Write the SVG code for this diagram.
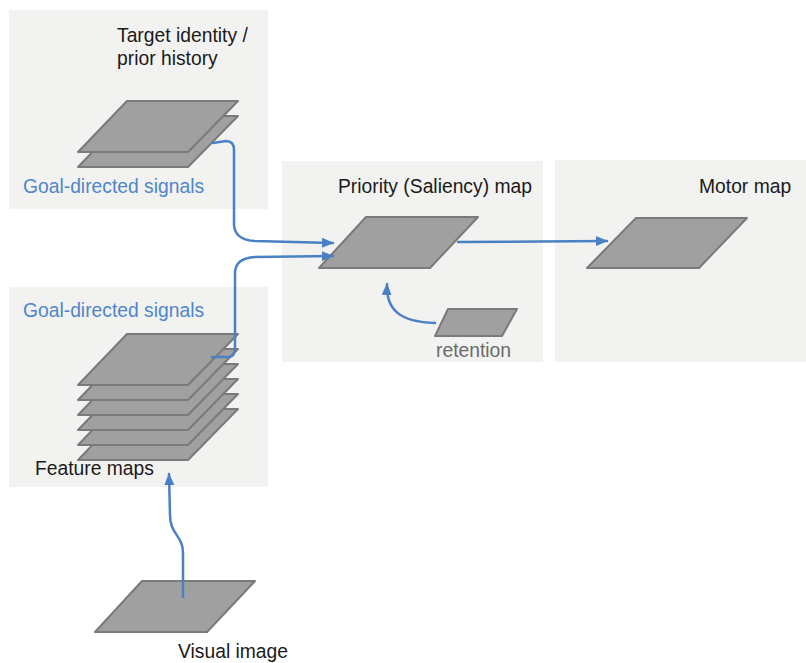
<svg xmlns="http://www.w3.org/2000/svg" width="806" height="663" viewBox="0 0 806 663">
<style>
.panel{fill:#f2f2f1;stroke:none}
.map{fill:#a0a0a0;stroke:#7a7a7a;stroke-width:2;stroke-linejoin:round}
.lbl{font-family:"Liberation Sans",Arial,sans-serif;font-size:19.3px;fill:#1a1a1a}
.blue{fill:#4f86c9}
.gray{fill:#6a6a6a}
.conn{fill:none;stroke:#4a80c4;stroke-width:2.5;stroke-linecap:round}
</style>
<defs>
<marker id="ah" viewBox="0 0 12 10" refX="11" refY="5" markerWidth="12" markerHeight="10" markerUnits="userSpaceOnUse" orient="auto">
<path d="M0,0 L12,5 L0,10 Z" fill="#4a80c4"/>
</marker>
</defs>
<rect width="806" height="663" fill="#ffffff"/>
<g id="panel-target">
<rect class="panel" x="9" y="10" width="259" height="199"/>
<text class="lbl" x="117" y="42">Target identity /</text>
<text class="lbl" x="117" y="65">prior history</text>
<polygon class="map" points="127,116 238,116 188,167 78,167"/>
<polygon class="map" points="127,101 238,101 188,152 78,152"/>
<text class="lbl blue" x="23" y="193">Goal-directed signals</text>
</g>
<g id="panel-feature">
<rect class="panel" x="9" y="287" width="259" height="200"/>
<text class="lbl blue" x="23" y="317">Goal-directed signals</text>
<polygon class="map" points="127,409 238,409 188,460 78,460"/>
<polygon class="map" points="127,394 238,394 188,445 78,445"/>
<polygon class="map" points="127,379 238,379 188,430 78,430"/>
<polygon class="map" points="127,364 238,364 188,415 78,415"/>
<polygon class="map" points="127,349 238,349 188,400 78,400"/>
<polygon class="map" points="127,334 238,334 188,385 78,385"/>
<text class="lbl" x="35" y="475">Feature maps</text>
</g>
<g id="panel-priority">
<rect class="panel" x="282" y="161" width="261" height="201"/>
<text class="lbl" x="338" y="193">Priority (Saliency) map</text>
<polygon class="map" points="366,217 478,217 430,268 319,268"/>
<polygon class="map" points="448,309 517,309 502,336 435,336"/>
<text class="lbl gray" x="436" y="357">retention</text>
</g>
<g id="panel-motor">
<rect class="panel" x="555" y="160" width="251" height="202"/>
<text class="lbl" x="699" y="193">Motor map</text>
<polygon class="map" points="636,218 747,218 699,268 587,268"/>
</g>
<g id="visual-image">
<polygon class="map" points="142,581 255,581 207,632 95,632"/>
<text class="lbl" x="178" y="658">Visual image</text>
</g>
<g id="connectors">
<path class="conn" d="M213,143 L226,141 Q234,141 234,150 L234,225 Q235,240 255,241 L333,243" marker-end="url(#ah)"/>
<path class="conn" d="M212,357 L228,357 Q235,357 235,348 L235,272 Q236,258 255,257 L333,256" marker-end="url(#ah)"/>
<path class="conn" d="M458,242 L607,241" marker-end="url(#ah)"/>
<path class="conn" d="M435,323 C400,322 386,310 387,284" marker-end="url(#ah)"/>
<path class="conn" d="M183,597 L183,553 C183,535 170,535 170,515 L169,474" marker-end="url(#ah)"/>
</g>
</svg>
